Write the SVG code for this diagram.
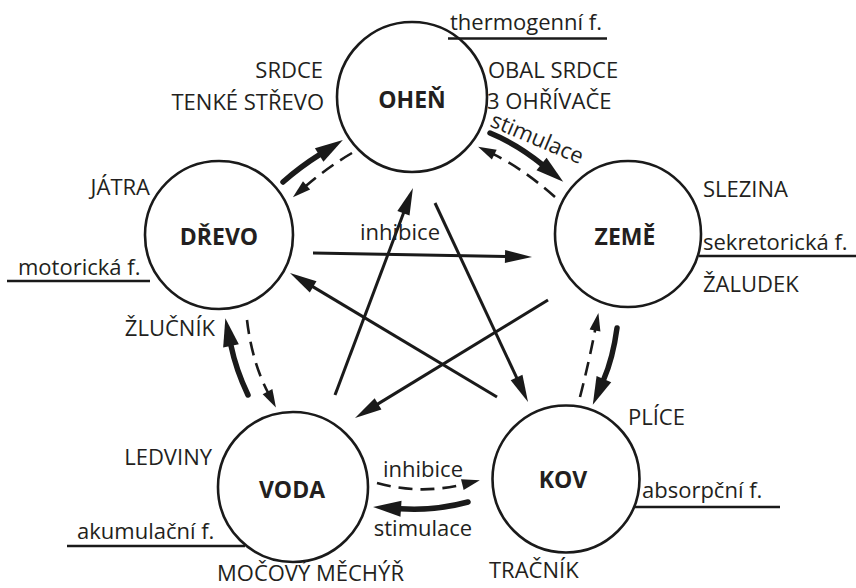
<svg xmlns="http://www.w3.org/2000/svg" width="856" height="588" viewBox="0 0 856 588">
<defs>
<style>
.c{fill:none;stroke:#1a1a1a;stroke-width:2.6}
.t{font-family:"Open Sans","Noto Sans",sans-serif;font-size:22px;fill:#231f20}
.b{font-family:"Open Sans","Noto Sans",sans-serif;font-size:23px;font-weight:bold;fill:#231f20;text-anchor:middle}
.e{text-anchor:end}
.u{stroke:#1a1a1a;stroke-width:2.6}
.star{fill:none;stroke:#1a1a1a;stroke-width:3;marker-end:url(#ms)}
.thick{fill:none;stroke:#1a1a1a;stroke-width:5.5;stroke-linecap:round;marker-end:url(#mt)}
.dash{fill:none;stroke:#1a1a1a;stroke-width:2.6;stroke-dasharray:14 8;marker-end:url(#md)}
</style>
<marker id="ms" markerUnits="userSpaceOnUse" markerWidth="28" markerHeight="14" refX="1" refY="7" orient="auto" overflow="visible"><path d="M0,0.5 L27,7 L0,13.5 z" fill="#1a1a1a"/></marker>
<marker id="mt" markerUnits="userSpaceOnUse" markerWidth="29" markerHeight="17" refX="1" refY="8" orient="auto" overflow="visible"><path d="M0,0 L28,8 L0,16 z" fill="#1a1a1a"/></marker>
<marker id="md" markerUnits="userSpaceOnUse" markerWidth="19" markerHeight="12" refX="1" refY="5.5" orient="auto" overflow="visible"><path d="M0,0 L18,5.5 L0,11 z" fill="#1a1a1a"/></marker>
</defs>
<rect width="856" height="588" fill="#fff"/>

<g id="connectors">
  <path class="star" d="M313,253 L506,256.5"/>
  <path class="star" d="M335,395 L403.8,212.3"/>
  <path class="star" d="M435,203 L517,378.4"/>
  <path class="star" d="M497,397 L312.3,286.4"/>
  <path class="star" d="M548,300 L377.2,404.4"/>
  <path class="thick" d="M283,182 Q300,167 320,154.4"/>
  <path class="thick" d="M490,133 Q517,144 542.3,164.6"/>
  <path class="thick" d="M617,328 Q613,358 603.5,380"/>
  <path class="thick" d="M468,502 Q435,511 400,508.7"/>
  <path class="thick" d="M248,395 Q236,370 230.8,344.8"/>
  <path class="dash" d="M352,153 Q328,167 305.8,186.1"/>
  <path class="dash" d="M555,197 Q522,168 493.4,154.2"/>
  <path class="dash" d="M580,397 Q589,362 595.2,329.6"/>
  <path class="dash" d="M377,483 Q420,495 463.3,484.3"/>
  <path class="dash" d="M247,320 Q252,362 268,392.5"/>
  <text class="t" x="360" y="240">inhibice</text>
  <text class="t" x="383" y="477">inhibice</text>
  <text class="t" x="423" y="536" text-anchor="middle">stimulace</text>
  <text class="t" transform="translate(489,126) rotate(23)">stimulace</text>
</g>

<g id="ohen">
  <circle class="c" cx="412" cy="97" r="75"/>
  <text class="b" x="412" y="108">OHEŇ</text>
  <text class="t" x="450" y="30">thermogenní f.</text>
  <line class="u" x1="448" y1="38.5" x2="607" y2="38.5"/>
  <text class="t e" x="323" y="78">SRDCE</text>
  <text class="t e" x="324" y="110">TENKÉ STŘEVO</text>
  <text class="t" x="488" y="78">OBAL SRDCE</text>
  <text class="t" x="487" y="109">3 OHŘÍVAČE</text>
</g>

<g id="zeme">
  <circle class="c" cx="628" cy="234" r="73"/>
  <text class="b" x="625" y="245">ZEMĚ</text>
  <text class="t" x="703" y="197">SLEZINA</text>
  <text class="t" x="703" y="250">sekretorická f.</text>
  <line class="u" x1="699" y1="256" x2="856" y2="256"/>
  <text class="t" x="703" y="292">ŽALUDEK</text>
</g>

<g id="drevo">
  <circle class="c" cx="219" cy="235" r="74"/>
  <text class="b" x="219" y="245">DŘEVO</text>
  <text class="t e" x="150" y="195">JÁTRA</text>
  <text class="t" x="18" y="275">motorická f.</text>
  <line class="u" x1="7" y1="281" x2="150" y2="281"/>
  <text class="t e" x="215" y="336">ŽLUČNÍK</text>
</g>

<g id="voda">
  <circle class="c" cx="293" cy="487" r="75"/>
  <text class="b" x="292" y="498">VODA</text>
  <text class="t e" x="212" y="465">LEDVINY</text>
  <text class="t" x="77" y="539">akumulační f.</text>
  <line class="u" x1="67" y1="546" x2="245" y2="546"/>
  <text class="t" x="217" y="581">MOČOVÝ MĚCHÝŘ</text>
</g>

<g id="kov">
  <circle class="c" cx="566" cy="479" r="73.5"/>
  <text class="b" x="563" y="488">KOV</text>
  <text class="t" x="628" y="425">PLÍCE</text>
  <text class="t" x="642" y="498">absorpční f.</text>
  <line class="u" x1="635" y1="507" x2="780" y2="507"/>
  <text class="t" x="489" y="578">TRAČNÍK</text>
</g>
</svg>
